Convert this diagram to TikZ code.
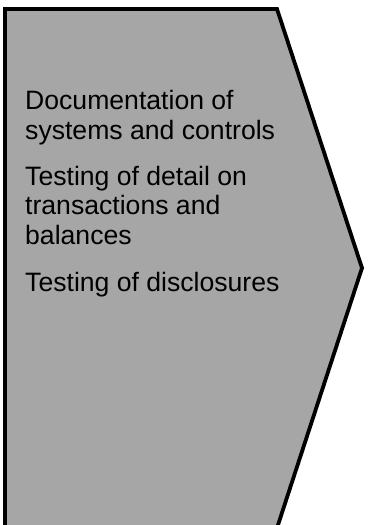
\documentclass[tikz,border=0pt]{standalone}
\usepackage{fontspec}
\setmainfont{Liberation Sans}
\definecolor{fillgray}{RGB}{166,166,166}
\begin{document}
\begin{tikzpicture}[x=1pt,y=-1pt,
  chevron/.style={draw=black,fill=fillgray,line width=3.8pt,line join=miter,miter limit=10},
  para/.style={anchor=base west,inner sep=0pt,align=left,font=\fontsize{26.6}{29.8}\selectfont}]
\useasboundingbox (0,0) rectangle (368,525);
\draw[chevron] (5,9) -- (277,9) -- (362,268) -- (277,528) -- (5,528) -- cycle;
\node[para] (p1) at (25,139.1) {Documentation of\\systems and controls};
\node[para] (p2) at (25,244.6) {Testing of detail on\\transactions and\\balances};
\node[para] (p3) at (25,291.7) {Testing of disclosures};
\end{tikzpicture}
\end{document}
